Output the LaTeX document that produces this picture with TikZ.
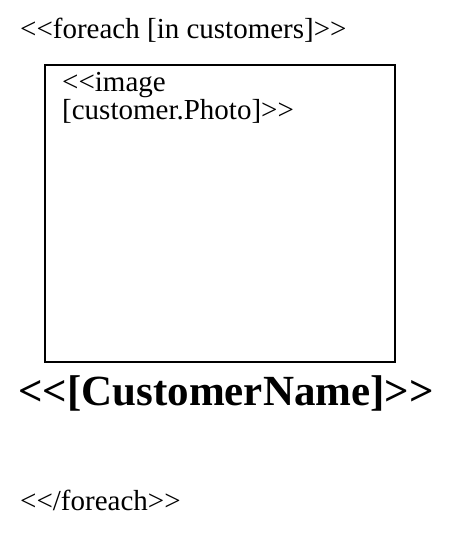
\documentclass[tikz,border=0pt]{standalone}
\usepackage{fontspec}
\setmainfont{Liberation Serif}
\begin{document}
\begin{tikzpicture}[x=1pt,y=-1pt,
  txt/.style={anchor=base west,inner sep=0pt,font=\fontsize{29}{32}\selectfont},
  big/.style={anchor=base west,inner sep=0pt,font=\fontsize{43}{48}\selectfont\bfseries},
  frame/.style={draw=black,line width=2pt}]
\useasboundingbox (0,0) rectangle (460,540);
\node[txt] (t1) at (20,39) {<{}<foreach [in customers]>{}>};
\draw[frame] (45,65) rectangle (395,362);
\node[txt] (t2) at (62,92) {<{}<image};
\node[txt] (t3) at (62,120) {[customer.Photo]>{}>};
\node[big] (t4) at (18,405) {<{}<[CustomerName]>{}>};
\node[txt] (t5) at (20,510) {<{}</foreach>{}>};
\end{tikzpicture}
\end{document}
